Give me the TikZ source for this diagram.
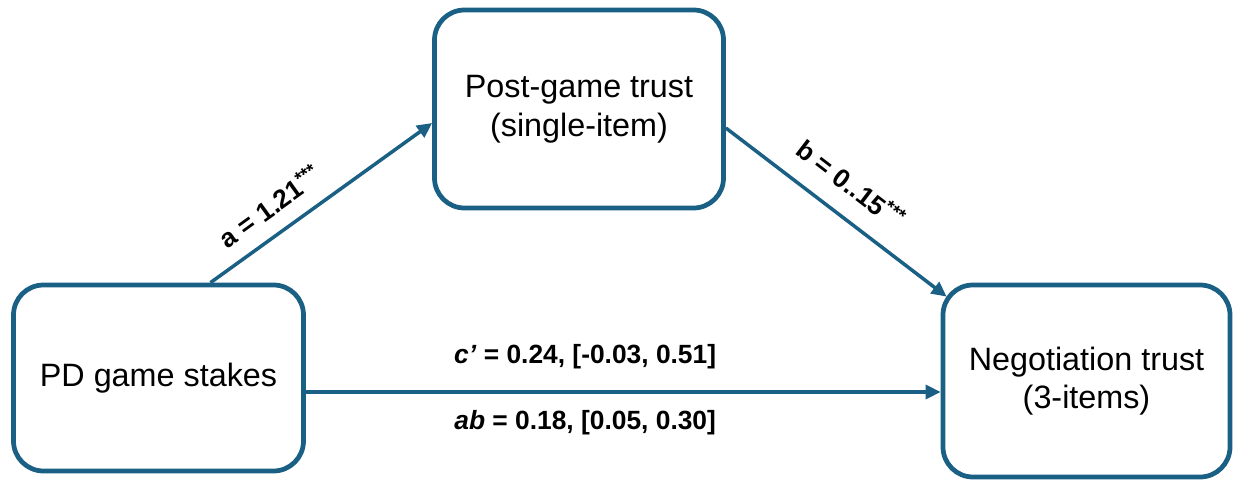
\documentclass[tikz,border=0pt]{standalone}
\usepackage{fontspec}
\setmainfont{Liberation Sans}
\usetikzlibrary{arrows.meta}
\definecolor{boxblue}{RGB}{26,96,132}

\begin{document}
\begin{tikzpicture}[
	var/.style={draw=boxblue, line width=0.095cm, rounded corners=0.6cm, align=center, font=\fontsize{18.4}{22}\selectfont},
	path/.style={draw=boxblue, line width=0.07cm, -{Triangle[length=0.3cm,width=0.28cm]}},
	coef/.style={font=\fontsize{15}{18}\selectfont\bfseries, inner sep=0pt}]
	\useasboundingbox (0,0) rectangle (24.7,9.66);
	\node[var, minimum width=5.8cm, minimum height=3.72cm] (pd) at (3.17,2.1) {PD game stakes};
	\node[var, minimum width=5.78cm, minimum height=3.96cm] (post) at (11.58,7.48) {Post-game trust\\(single-item)};
	\node[var, minimum width=5.74cm, minimum height=3.84cm] (neg) at (21.73,2.04) {Negotiation trust\\(3-items)};
	\draw[path] ([xshift=1.04cm]pd.north) -- ([yshift=-0.28cm]post.west)
		node[coef, sloped, pos=0.34, above=0.3cm] {a = 1.21\textsuperscript{***}};
	\draw[path] ([yshift=-0.38cm]post.east) -- ([xshift=0.12cm,yshift=-0.28cm]neg.north west)
		node[coef, sloped, pos=0.48, above=0.38cm] {b = 0..15\textsuperscript{***}};
	\draw[path] ([yshift=-0.28cm]pd.east) -- ([yshift=-0.28cm]pd.east -| neg.west)
		node[coef, pos=0.44, above=0.42cm] {\textit{c’} = 0.24, [-0.03, 0.51]}
		node[coef, pos=0.44, below=0.33cm] {\textit{ab} = 0.18, [0.05, 0.30]};
\end{tikzpicture}
\end{document}
